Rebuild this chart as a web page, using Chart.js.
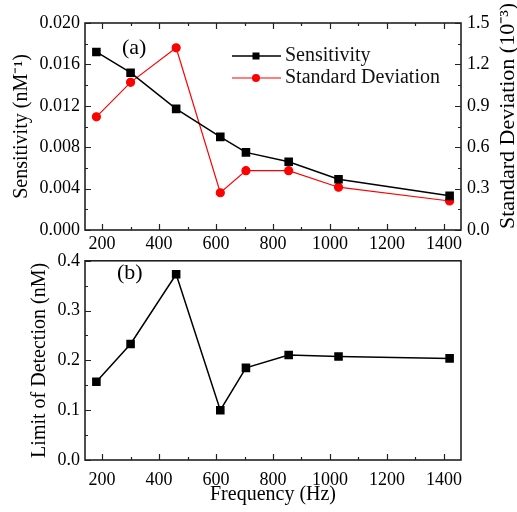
<!DOCTYPE html>
<html>
<head>
<meta charset="utf-8">
<script src="https://cdn.jsdelivr.net/npm/chart.js@4.4.0/dist/chart.umd.min.js"></script>
<style>
  body { margin: 0; background: #fff; }
  #wrap { position: relative; width: 517px; height: 512px; overflow: hidden; }
  canvas { position: absolute; left: 0; }
</style>
</head>
<body>
<div id="wrap">
  <canvas id="chartA" width="517" height="255" style="top:0"></canvas>
  <canvas id="chartB" width="517" height="267" style="top:245px"></canvas>
</div>
<script>
// du lieu doc tu hinh
var frequency = [180, 300, 460, 615, 705, 855, 1030, 1420];
var sensitivity = [0.0172, 0.0152, 0.0117, 0.0090, 0.0075, 0.0066, 0.0049, 0.0033];
var stdDeviation = [0.82, 1.07, 1.32, 0.27, 0.43, 0.43, 0.31, 0.21];
var limitOfDetection = [0.157, 0.233, 0.373, 0.100, 0.185, 0.211, 0.208, 0.204];

var xTicks = [200, 400, 600, 800, 1000, 1200, 1400];
var sensTicks = [0, 0.004, 0.008, 0.012, 0.016, 0.020];
var stdTicks = [0, 0.3, 0.6, 0.9, 1.2, 1.5];
var lodTicks = [0, 0.1, 0.2, 0.3, 0.4];

var FONT = "'Liberation Serif', 'Times New Roman', serif";

function toPoints(ys) {
    return frequency.map(function (f, i) { return { x: f, y: ys[i] }; });
}

function fixTicks(list) {
    return function (scale) {
        scale.ticks = list.map(function (v) { return { value: v }; });
    };
}

// ve vach chia huong vao trong + khung
var framePlugin = {
    id: 'frame',
    afterDraw: function (chart) {
        var ctx = chart.ctx, a = chart.chartArea;
        var opts = chart.options.plugins.frame;
        ctx.save();
        ctx.strokeStyle = '#222';
        ctx.lineWidth = 1.2;
        var x = chart.scales.x;
        var step = xTicks[1] - xTicks[0];
        ctx.beginPath();
        for (var v = xTicks[0] - step / 2; v <= x.max; v += step / 2) {
            if (v < x.min) continue;
            var major = xTicks.indexOf(v) >= 0;
            var len = major ? 6 : 3;
            var px = Math.round(x.getPixelForValue(v)) + 0.5;
            ctx.moveTo(px, a.bottom); ctx.lineTo(px, a.bottom - len);
            if (opts.topTicks) { ctx.moveTo(px, a.top); ctx.lineTo(px, a.top + len); }
        }
        opts.yAxes.forEach(function (id) {
            var s = chart.scales[id];
            var t = s.ticks.map(function (k) { return k.value; });
            var st = t[1] - t[0];
            for (var i = 0; i < t.length; i++) {
                [t[i], t[i] + st / 2].forEach(function (val, j) {
                    if (val > s.max + 1e-9) return;
                    var len = j === 0 ? 6 : 3;
                    var py = Math.round(s.getPixelForValue(val)) + 0.5;
                    if (s.position === 'left') { ctx.moveTo(a.left, py); ctx.lineTo(a.left + len, py); }
                    else { ctx.moveTo(a.right, py); ctx.lineTo(a.right - len, py); }
                });
            }
        });
        ctx.stroke();
        ctx.lineWidth = 1.6;
        ctx.strokeRect(a.left, a.top, a.right - a.left, a.bottom - a.top);

        // nhan (a) / (b)
        ctx.fillStyle = '#000';
        ctx.font = '22px ' + FONT;
        ctx.textBaseline = 'middle';
        ctx.textAlign = 'left';
        ctx.fillText(opts.label, opts.labelX, opts.labelY);

        if (opts.legend) {
            ctx.font = '20px ' + FONT;
            opts.legend.forEach(function (it) {
                ctx.strokeStyle = it.color;
                ctx.lineWidth = it.width;
                ctx.beginPath();
                ctx.moveTo(232, it.y); ctx.lineTo(281, it.y);
                ctx.stroke();
                ctx.fillStyle = it.color;
                if (it.square) ctx.fillRect(252.5, it.y - 3.5, 7, 7);
                else { ctx.beginPath(); ctx.arc(256, it.y, 4, 0, Math.PI * 2); ctx.fill(); }
                ctx.fillStyle = '#111';
                ctx.fillText(it.text, 285, it.y);
            });
        }
        if (opts.rightTitle) {
            ctx.save();
            ctx.translate(508, 116);
            ctx.rotate(-Math.PI / 2);
            ctx.textAlign = 'center';
            ctx.font = '22px ' + FONT;
            ctx.fillStyle = '#000';
            ctx.fillText(opts.rightTitle, 0, 0);
            ctx.restore();
        }
        ctx.restore();
    }
};

var tickFont = { family: FONT, size: 18 };
var titleFont = { family: FONT, size: 20 };
var plainLabel = function (v) { return String(v); };

var chartA = new Chart(document.getElementById('chartA').getContext('2d'), {
    type: 'line',
    data: {
        datasets: [{
            label: 'Sensitivity',
            data: toPoints(sensitivity),
            yAxisID: 'y',
            borderColor: '#000',
            backgroundColor: '#000',
            borderWidth: 1.5,
            pointStyle: 'rect',
            pointRadius: 5,
            pointHoverRadius: 5
        }, {
            label: 'Standard Deviation',
            data: toPoints(stdDeviation),
            yAxisID: 'y1',
            borderColor: '#ff0000',
            backgroundColor: '#ff0000',
            borderWidth: 1.2,
            pointStyle: 'circle',
            pointRadius: 4,
            pointHoverRadius: 4
        }]
    },
    options: {
        responsive: false,
        animation: false,
        layout: { padding: { top: 23, left: 0, right: 0, bottom: 0 } },
        scales: {
            x: {
                type: 'linear', min: 140, max: 1460,
                afterBuildTicks: fixTicks(xTicks),
                afterFit: function (s) { s.height = 25; },
                grid: { display: false, drawTicks: false },
                border: { display: false },
                ticks: { font: tickFont, color: '#000', padding: 3, maxRotation: 0, callback: plainLabel }
            },
            y: {
                position: 'left', min: 0, max: 0.020,
                afterBuildTicks: fixTicks(sensTicks),
                afterFit: function (s) { s.width = 85; },
                grid: { display: false, drawTicks: false },
                border: { display: false },
                ticks: { font: tickFont, color: '#000', padding: 5,
                    callback: function (v) { return v.toFixed(3); } },
                title: { display: true, text: 'Sensitivity (nM⁻¹)', font: titleFont, color: '#000',
                    padding: { top: 10, bottom: 0 } }
            },
            y1: {
                position: 'right', min: 0, max: 1.5,
                afterBuildTicks: fixTicks(stdTicks),
                afterFit: function (s) { s.width = 56; },
                grid: { display: false, drawTicks: false },
                border: { display: false },
                ticks: { font: tickFont, color: '#000', padding: 6,
                    callback: function (v) { return v.toFixed(1); } }
            }
        },
        plugins: {
            legend: { display: false },
            tooltip: { enabled: false },
            frame: {
                topTicks: true, yAxes: ['y', 'y1'],
                label: '(a)', labelX: 122, labelY: 48,
                rightTitle: 'Standard Deviation (10⁻³)',
                legend: [
                    { text: 'Sensitivity', color: '#000', width: 1.5, y: 56, square: true },
                    { text: 'Standard Deviation', color: '#ff0000', width: 1.2, y: 78 }
                ]
            }
        }
    },
    plugins: [framePlugin]
});

var chartB = new Chart(document.getElementById('chartB').getContext('2d'), {
    type: 'line',
    data: {
        datasets: [{
            label: 'Limit of Detection',
            data: toPoints(limitOfDetection),
            borderColor: '#000',
            backgroundColor: '#000',
            borderWidth: 1.5,
            pointStyle: 'rect',
            pointRadius: 5,
            pointHoverRadius: 5
        }]
    },
    options: {
        responsive: false,
        animation: false,
        layout: { padding: { top: 10, left: 0, right: 56, bottom: 0 } },
        scales: {
            x: {
                type: 'linear', min: 140, max: 1460,
                afterBuildTicks: fixTicks(xTicks),
                afterFit: function (s) { s.height = 52; },
                grid: { display: false, drawTicks: false },
                border: { display: false },
                ticks: { font: tickFont, color: '#000', padding: 9, maxRotation: 0, callback: plainLabel },
                title: { display: true, text: 'Frequency (Hz)', font: titleFont, color: '#000',
                    padding: { top: 0, bottom: 5 } }
            },
            y: {
                position: 'left', min: 0, max: 0.4,
                afterBuildTicks: fixTicks(lodTicks),
                afterFit: function (s) { s.width = 85; },
                grid: { display: false, drawTicks: false },
                border: { display: false },
                ticks: { font: tickFont, color: '#000', padding: 5,
                    callback: function (v) { return v.toFixed(1); } },
                title: { display: true, text: 'Limit of Detection (nM)', font: titleFont, color: '#000',
                    padding: { top: 28, bottom: 0 } }
            }
        },
        plugins: {
            legend: { display: false },
            tooltip: { enabled: false },
            frame: {
                topTicks: false, yAxes: ['y'],
                label: '(b)', labelX: 117, labelY: 28
            }
        }
    },
    plugins: [framePlugin]
});
</script>
</body>
</html>
